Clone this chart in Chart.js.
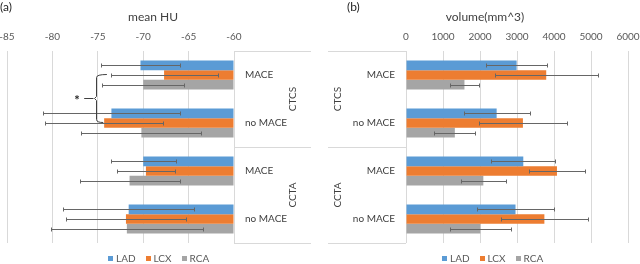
<!DOCTYPE html>
<html>
<head>
<meta charset="utf-8">
<script src="https://cdn.jsdelivr.net/npm/chart.js@4.4.1/dist/chart.umd.min.js"></script>
<style>
    body { margin: 0; background: #fff; font-family: Lato, sans-serif; }
    #wrap { position: relative; width: 640px; height: 264px; overflow: hidden; }
    .panel { position: absolute; top: 0; width: 320px; height: 264px; }
    .txt { position: absolute; font-size: 12px; line-height: 12px; color: #404040; white-space: nowrap; }
    .legend { position: absolute; top: 252px; font-size: 10px; line-height: 12px; color: #595959; display: flex; align-items: center; white-space: nowrap; }
    .legend .item { display: flex; align-items: center; margin-right: 10px; }
    .legend .box { display: inline-block; width: 5px; height: 5px; margin-right: 3px; }
</style>
</head>
<body>
<div id="wrap">
    <div class="panel" style="left:0"><canvas id="huChart" width="320" height="264"></canvas></div>
    <div class="panel" style="left:320px"><canvas id="volChart" width="320" height="264"></canvas></div>

    <div class="txt" style="left:0;top:1px;color:#262626">(a)</div>
    <div class="txt" style="left:347px;top:1px;color:#262626">(b)</div>
    <div class="txt" style="left:153px;top:11px;transform:translateX(-50%)">mean HU</div>
    <div class="txt" style="left:485px;top:11px;transform:translateX(-50%)">volume(mm^3)</div>

    <div class="legend" id="legendA" style="left:108px"></div>
    <div class="legend" id="legendB" style="left:442px"></div>
</div>

<script>
// Categorias e grupos
const categories = ['MACE', 'no MACE', 'MACE', 'no MACE'];
const groups = ['CTCS', 'CCTA'];
const seriesNames = ['LAD', 'LCX', 'RCA'];
const seriesColors = ['#5B9BD5', '#ED7D31', '#A5A5A5'];

// (a) mean HU
const huLAD = [-70.3, -73.5, -70.0, -71.6];
const huLCX = [-67.7, -74.3, -69.7, -71.9];
const huRCA = [-70.0, -70.2, -71.5, -71.8];
const huLADErr = [4.4, 7.5, 3.6, 7.2];
const huLCXErr = [5.9, 6.5, 3.2, 6.6];
const huRCAErr = [4.5, 6.6, 5.5, 8.4];
const huTicks = [-85, -80, -75, -70, -65, -60];

// (b) volume
const volLAD = [2990, 2450, 3170, 2960];
const volLCX = [3790, 3160, 4080, 3740];
const volRCA = [1580, 1320, 2090, 2010];
const volLADErr = [830, 890, 860, 1030];
const volLCXErr = [1390, 1190, 760, 1180];
const volRCAErr = [380, 550, 610, 830];
const volTicks = [0, 1000, 2000, 3000, 4000, 5000, 6000];

const gridColor = '#D9D9D9';
const tickFont = { family: 'Lato', size: 10 };

// Barras de erro
const errorBars = {
    id: 'errorBars',
    afterDatasetsDraw(chart) {
        const ctx = chart.ctx;
        const xs = chart.scales.x;
        ctx.save();
        ctx.strokeStyle = '#666666';
        ctx.lineWidth = 1;
        chart.data.datasets.forEach((ds, i) => {
            const meta = chart.getDatasetMeta(i);
            meta.data.forEach((bar, j) => {
                const v = ds.data[j];
                const e = ds.errors[j];
                const x1 = Math.round(xs.getPixelForValue(v - e)) + 0.5;
                const x2 = Math.round(xs.getPixelForValue(v + e)) + 0.5;
                const y = Math.round(bar.y) + 0.5;
                ctx.beginPath();
                ctx.moveTo(x1, y); ctx.lineTo(x2, y);
                ctx.moveTo(x1, y - 2); ctx.lineTo(x1, y + 2);
                ctx.moveTo(x2, y - 2); ctx.lineTo(x2, y + 2);
                ctx.stroke();
            });
        });
        ctx.restore();
    }
};

// Caixa das categorias: rótulos, linhas e grupo
const groupBox = {
    id: 'groupBox',
    afterDraw(chart, args, opts) {
        const ctx = chart.ctx;
        const a = chart.chartArea;
        const ys = chart.scales.y;
        const right = opts.side === 'right';
        const x0 = right ? a.right : a.left - opts.width;
        const x1 = right ? a.right + opts.width : a.left;
        const mid = (ys.getPixelForValue(1) + ys.getPixelForValue(2)) / 2;
        ctx.save();
        ctx.strokeStyle = gridColor;
        ctx.lineWidth = 1;
        [a.top, mid, a.bottom].forEach(y => {
            const yy = Math.round(y) + 0.5;
            ctx.beginPath();
            ctx.moveTo(x0, yy);
            ctx.lineTo(x1, yy);
            ctx.stroke();
        });
        ctx.fillStyle = '#404040';
        ctx.font = '10px Lato';
        ctx.textBaseline = 'middle';
        // rótulos das categorias
        ctx.textAlign = right ? 'left' : 'right';
        const tx = right ? a.right + 11 : a.left - 11;
        chart.data.labels.forEach((lab, i) => {
            ctx.fillText(lab, tx, ys.getPixelForValue(i));
        });
        // rótulos de grupo (rodados)
        ctx.textAlign = 'center';
        const lx = right ? a.right + opts.labelOffset : a.left - opts.labelOffset;
        [(a.top + mid) / 2, (mid + a.bottom) / 2].forEach((y, k) => {
            ctx.save();
            ctx.translate(lx, y);
            ctx.rotate(-Math.PI / 2);
            ctx.fillText(groups[k], 0, 0);
            ctx.restore();
        });
        ctx.restore();
    }
};

// Chave com asterisco (significância)
const bracket = {
    id: 'bracket',
    afterDraw(chart) {
        const ctx = chart.ctx;
        const xs = chart.scales.x;
        const lcx = chart.getDatasetMeta(1);
        const yTop = Math.round(lcx.data[0].y) - 0.5;
        const yBot = Math.round(lcx.data[1].y) - 0.5;
        const mid = (yTop + yBot) / 2;
        const xb = Math.round(xs.getPixelForValue(-75.2)) + 0.5;
        ctx.save();
        ctx.strokeStyle = '#404040';
        ctx.lineWidth = 1;
        ctx.beginPath();
        ctx.moveTo(xs.getPixelForValue(-74.0), yTop);
        ctx.quadraticCurveTo(xb, yTop, xb, yTop + 3);
        ctx.lineTo(xb, mid - 2);
        ctx.lineTo(xb - 2, mid);
        ctx.lineTo(xb, mid + 2);
        ctx.lineTo(xb, yBot - 3);
        ctx.quadraticCurveTo(xb, yBot, xs.getPixelForValue(-74.4), yBot);
        ctx.moveTo(xs.getPixelForValue(-76.5), mid);
        ctx.lineTo(xb - 3, mid);
        ctx.stroke();
        ctx.fillStyle = '#262626';
        ctx.font = 'bold 13px Lato';
        ctx.textAlign = 'center';
        ctx.textBaseline = 'middle';
        ctx.fillText('*', xs.getPixelForValue(-77.3), mid + 2);
        ctx.restore();
    }
};

function makeDatasets(values, errs, base) {
    return values.map((v, i) => ({
        label: seriesNames[i],
        data: v,
        errors: errs[i],
        backgroundColor: seriesColors[i],
        borderWidth: 0,
        base: base,
        categoryPercentage: 0.6,
        barPercentage: 1.0
    }));
}

function makeChart(id, cfg) {
    const ctx = document.getElementById(id).getContext('2d');
    return new Chart(ctx, {
        type: 'bar',
        data: {
            labels: categories,
            datasets: makeDatasets(cfg.values, cfg.errors, cfg.base)
        },
        options: {
            indexAxis: 'y',
            responsive: false,
            animation: false,
            layout: { padding: cfg.padding },
            plugins: {
                legend: { display: false },
                tooltip: { enabled: false },
                groupBox: cfg.box
            },
            scales: {
                x: {
                    position: 'top',
                    min: cfg.ticks[0],
                    max: cfg.ticks[cfg.ticks.length - 1],
                    afterBuildTicks(s) { s.ticks = cfg.ticks.map(v => ({ value: v })); },
                    ticks: {
                        font: tickFont,
                        color: '#595959',
                        padding: 8,
                        callback: v => String(v)
                    },
                    grid: { color: gridColor, drawTicks: false },
                    border: { display: false },
                    afterFit(s) { s.height = 21; s.paddingLeft = 0; s.paddingRight = 0; }
                },
                y: {
                    position: cfg.box.side,
                    grid: { display: false },
                    border: { display: false },
                    ticks: { display: false },
                    afterFit(s) { s.width = cfg.box.width; s.paddingTop = 0; s.paddingBottom = 0; }
                }
            }
        },
        plugins: cfg.extra
    });
}

makeChart('huChart', {
    values: [huLAD, huLCX, huRCA],
    errors: [huLADErr, huLCXErr, huRCAErr],
    base: -60,
    ticks: huTicks,
    padding: { left: 7, right: 9, top: 30, bottom: 21 },
    box: { side: 'right', width: 77, labelOffset: 59 },
    extra: [errorBars, groupBox, bracket]
});

makeChart('volChart', {
    values: [volLAD, volLCX, volRCA],
    errors: [volLADErr, volLCXErr, volRCAErr],
    base: 0,
    ticks: volTicks,
    padding: { left: 8, right: 12, top: 30, bottom: 21 },
    box: { side: 'left', width: 78, labelOffset: 68 },
    extra: [errorBars, groupBox]
});

// Legendas
['legendA', 'legendB'].forEach(id => {
    const el = document.getElementById(id);
    seriesNames.forEach((name, i) => {
        const item = document.createElement('span');
        item.className = 'item';
        item.innerHTML = '<span class="box" style="background:' + seriesColors[i] + '"></span>' + name;
        el.appendChild(item);
    });
});
</script>
</body>
</html>
